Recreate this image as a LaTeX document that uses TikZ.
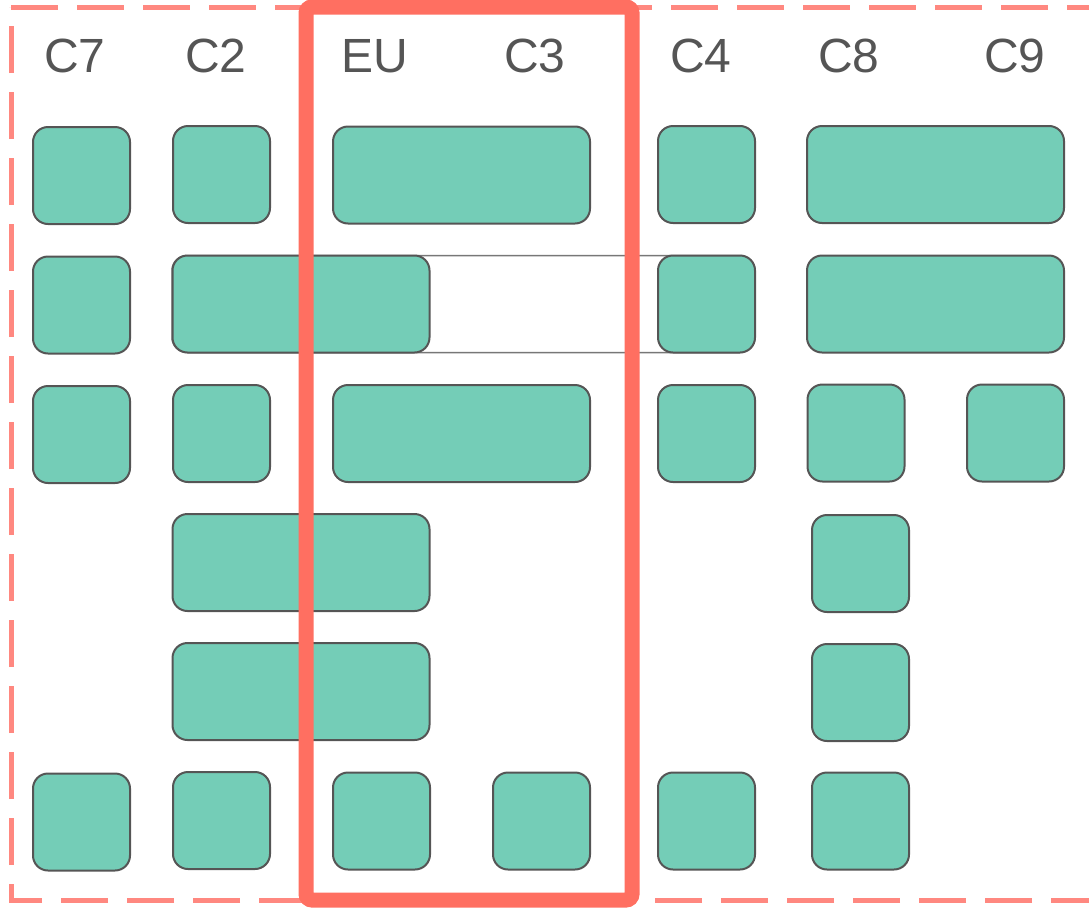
\documentclass[tikz,border=0pt]{standalone}
\usepackage{fontspec}
\setmainfont{Liberation Sans}
\definecolor{boxfill}{RGB}{116,205,183}
\definecolor{boxline}{RGB}{85,85,85}
\definecolor{dashred}{RGB}{255,136,128}
\definecolor{solidred}{RGB}{255,111,97}
\definecolor{labelgray}{RGB}{85,85,85}
\begin{document}
\begin{tikzpicture}[x=1pt,y=-1pt,
  cell/.style={draw=boxline,line width=2pt,fill=boxfill,rounded corners=15pt,inner sep=0pt,minimum height=97pt},
  small/.style={cell,minimum width=97pt},
  wide/.style={cell,minimum width=257pt},
  collabel/.style={anchor=base,text=labelgray,font=\fontsize{48}{56}\selectfont,inner sep=0pt},
  bandline/.style={draw=boxline!80,line width=1.5pt,fill=white,rounded corners=15pt,inner sep=0pt}]
\useasboundingbox (0,0) rectangle (1089,908);
% outer dashed frame
\draw[dashred,line width=5pt,dash pattern=on 47pt off 19pt] (11,7) -- (1098,7) -- (1098,900) -- (11,900) -- cycle;
% column labels
\node[collabel] (lC7) at (75,72) {C7};
\node[collabel] (lC2) at (216,72) {C2};
\node[collabel] (lEU) at (375,72) {EU};
\node[collabel] (lC3) at (535,72) {C3};
\node[collabel] (lC4) at (701,72) {C4};
\node[collabel] (lC8) at (849,72) {C8};
\node[collabel] (lC9) at (1015,72) {C9};
% row 2 band behind
\node[bandline,minimum width=583pt,minimum height=97pt] (band) at (463.5,304) {};
% row 1
\node[small] (r1c7) at (81.5,175.5) {};
\node[small] (r1c2) at (221.5,174.5) {};
\node[wide] (r1euc3) at (461.5,175) {};
\node[small] (r1c4) at (706.5,174.5) {};
\node[wide] (r1c8c9) at (935.5,174.5) {};
% row 2
\node[small] (r2c7) at (81.5,305) {};
\node[wide] (r2c2eu) at (301,304) {};
\node[small] (r2c4) at (706.5,304) {};
\node[wide] (r2c8c9) at (935.5,304) {};
% row 3
\node[small] (r3c7) at (81.5,434.5) {};
\node[small] (r3c2) at (221.5,433.5) {};
\node[wide] (r3euc3) at (461.5,433.5) {};
\node[small] (r3c4) at (706.5,433.5) {};
\node[small] (r3c8) at (856,433) {};
\node[small] (r3c9) at (1015.5,433) {};
% row 4
\node[wide] (r4c2eu) at (301,562.5) {};
\node[small] (r4c8) at (860.5,563.5) {};
% row 5
\node[wide] (r5c2eu) at (301,691.5) {};
\node[small] (r5c8) at (860.5,692.5) {};
% row 6
\node[small] (r6c7) at (81.5,822) {};
\node[small] (r6c2) at (221.5,820.5) {};
\node[small] (r6eu) at (381.5,821) {};
\node[small] (r6c3) at (541.5,821) {};
\node[small] (r6c4) at (706.5,821) {};
\node[small] (r6c8) at (860.5,821) {};
% highlighted EU/C3 frame
\draw[solidred,line width=15pt,rounded corners=6pt] (306,7) rectangle (632,900);
\end{tikzpicture}
\end{document}
